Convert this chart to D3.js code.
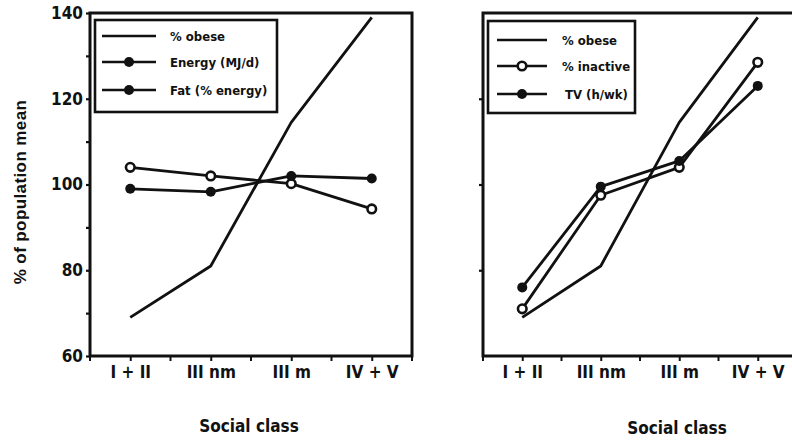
<!DOCTYPE html>
<html>
<head>
<meta charset="utf-8">
<script src="https://cdn.jsdelivr.net/npm/d3@7"></script>
<style>
  body { margin: 0; background: #fff; }
  text { font-family: "Liberation Sans Narrow", "Arial Narrow", "DejaVu Sans Condensed", sans-serif; font-weight: bold; fill: #111; }
  .ytitle { font-family: "Liberation Sans", Arial, sans-serif; letter-spacing: 0.4px; }
</style>
</head>
<body>
<svg id="chart" width="792" height="446"></svg>
<script>
// Social class categories and series, as % of population mean
const classes = ["I + II", "III nm", "III m", "IV + V"];
const obese = [69, 81, 114.5, 139];
const energy = [104, 102, 100.2, 94.3];
const fat = [99, 98.3, 102, 101.4];
const inactive = [71, 97.5, 104, 128.5];
const tv = [76, 99.5, 105.5, 123];

const yMajor = [60, 80, 100, 120, 140];
const yMinor = [70, 90, 110, 130];

const leftSeries = [
  { name: "% obese", values: obese, marker: "none" },
  { name: "Energy (MJ/d)", values: energy, marker: "open", legendMarker: "filled" },
  { name: "Fat (% energy)", values: fat, marker: "filled", legendMarker: "filled" }
];
const rightSeries = [
  { name: "% obese", values: obese, marker: "none" },
  { name: "% inactive", values: inactive, marker: "open", legendMarker: "open" },
  { name: "TV (h/wk)", values: tv, marker: "filled", legendMarker: "filled" }
];

const svg = d3.select("#chart");
const ink = "#111";
const y = d3.scaleLinear().domain([60, 140]).range([356, 13]);

function drawMarker(g, type, cx, cy) {
  if (type === "open") {
    g.append("circle").attr("cx", cx).attr("cy", cy).attr("r", 4.3)
      .attr("fill", "#fff").attr("stroke", ink).attr("stroke-width", 2.6);
  } else if (type === "filled") {
    g.append("circle").attr("cx", cx).attr("cy", cy).attr("r", 5)
      .attr("fill", ink);
  }
}

function panel(opts) {
  const g = svg.append("g");
  const x = d3.scalePoint().domain(classes).range([opts.x0, opts.x1]).padding(0.5);
  const [yb, yt] = y.range();

  // y ticks
  const yAxis = d3.axisLeft(y).tickValues(opts.labels ? yMajor : yMajor.slice(1, -1))
    .tickSize(4).tickPadding(3)
    .tickFormat(opts.labels ? d3.format("d") : () => "");
  const ya = g.append("g").attr("transform", `translate(${opts.x0},0)`).call(yAxis);
  ya.select(".domain").remove();
  ya.selectAll(".tick line").attr("stroke", ink).attr("stroke-width", 2.2);
  ya.selectAll(".tick text").style("font-size", "17px").attr("fill", ink);
  if (opts.labels) {
    const ym = d3.axisLeft(y).tickValues(yMinor).tickSize(4).tickFormat(() => "");
    const ymg = g.append("g").attr("transform", `translate(${opts.x0},0)`).call(ym);
    ymg.select(".domain").remove();
    ymg.selectAll(".tick line").attr("stroke", ink).attr("stroke-width", 2.2);
  }

  // x axis: category labels plus tick marks at centres and boundaries
  const xAxis = d3.axisBottom(x).tickSize(5).tickPadding(5);
  const xa = g.append("g").attr("transform", `translate(0,${yb})`).call(xAxis);
  xa.select(".domain").remove();
  xa.selectAll(".tick line").attr("stroke", ink).attr("stroke-width", 2);
  xa.selectAll(".tick text").style("font-size", "17px").attr("fill", ink);
  const step = x.step();
  const bounds = d3.range(0, classes.length + 1).map(i => opts.x0 + i * step).filter(v => v < 790);
  g.selectAll(".xb").data(bounds).join("line")
    .attr("x1", d => d).attr("x2", d => d).attr("y1", yb).attr("y2", yb + 5)
    .attr("stroke", ink).attr("stroke-width", 2);

  g.append("text").attr("x", opts.titleX).attr("y", opts.titleY)
    .attr("text-anchor", "middle").style("font-size", "17px").text("Social class");

  // frame
  g.append("rect").attr("x", opts.x0).attr("y", yt)
    .attr("width", opts.frameW).attr("height", yb - yt)
    .attr("fill", "none").attr("stroke", ink).attr("stroke-width", 3);

  // series
  const line = d3.line().x((d, i) => x(classes[i])).y(d => y(d));
  opts.series.forEach(s => {
    g.append("path").datum(s.values).attr("d", line)
      .attr("fill", "none").attr("stroke", ink).attr("stroke-width", 2.8)
      .attr("stroke-linejoin", "round");
  });
  opts.series.forEach(s => {
    s.values.forEach((v, i) => drawMarker(g, s.marker, x(classes[i]), y(v)));
  });

  // legend
  const L = opts.legend;
  g.append("rect").attr("x", L.x).attr("y", L.y).attr("width", L.w).attr("height", L.h)
    .attr("fill", "#fff").attr("stroke", ink).attr("stroke-width", 2.6);
  opts.series.forEach((s, i) => {
    const ry = L.rows[i];
    g.append("line").attr("x1", L.lx0).attr("x2", L.lx1).attr("y1", ry).attr("y2", ry)
      .attr("stroke", ink).attr("stroke-width", 2.4);
    if (s.legendMarker) drawMarker(g, s.legendMarker, (L.lx0 + L.lx1) / 2, ry);
    g.append("text").attr("x", L.tx + (L.txOff ? L.txOff[i] : 0)).attr("y", ry)
      .attr("dy", "0.36em").style("font-size", "13px").text(s.name);
  });
}

panel({
  x0: 90, x1: 412, frameW: 322, labels: true, series: leftSeries,
  titleX: 249, titleY: 432,
  legend: { x: 95, y: 20, w: 182, h: 92, rows: [36, 62, 90], lx0: 102, lx1: 156, tx: 170 }
});
panel({
  x0: 483, x1: 797, frameW: 340, labels: false, series: rightSeries,
  titleX: 677, titleY: 434,
  legend: { x: 488, y: 21, w: 147, h: 92, rows: [40, 66, 94], lx0: 497, lx1: 547, tx: 562, txOff: [0, 0, 3] }
});

// shared y-axis title
svg.append("text").attr("class", "ytitle")
  .attr("transform", "translate(26,192) rotate(-90)")
  .attr("text-anchor", "middle").style("font-size", "17px")
  .text("% of population mean");
</script>
</body>
</html>
